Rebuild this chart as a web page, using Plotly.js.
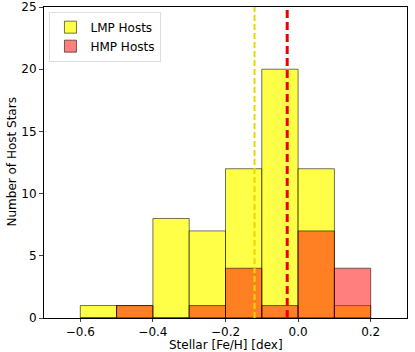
<!DOCTYPE html>
<html>
<head>
<script src="https://cdn.plot.ly/plotly-3.0.1.min.js"></script>
<style>body{margin:0;}#chart{width:415px;height:352px;}</style>
</head>
<body>
<div id="chart"></div>
<script>
// bin centres (width 0.1) and counts
var binCenters = [-0.55, -0.45, -0.35, -0.25, -0.15, -0.05, 0.05, 0.15];
var lmpCounts = [1, 1, 8, 7, 12, 20, 12, 1];
var hmpCounts = [0, 1, 0, 1, 4, 1, 7, 4];
var lmpMean = -0.12;
var hmpMean = -0.03;
var xTicks = [-0.6, -0.4, -0.2, 0.0, 0.2];
var xTickText = ['\u22120.6', '\u22120.4', '\u22120.2', '0.0', '0.2'];
var yTicks = [0, 5, 10, 15, 20, 25];

var edge = {color: 'rgba(0,0,0,0.55)', width: 1};

var lmp = {
	type: 'bar', x: binCenters, y: lmpCounts, width: 0.1,
	name: 'LMP Hosts',
	marker: {color: 'rgba(255,255,0,0.72)', line: edge}
};
var hmp = {
	type: 'bar', x: binCenters, y: hmpCounts, width: 0.1,
	name: 'HMP Hosts',
	marker: {color: 'rgba(255,0,0,0.5)', line: edge}
};

var layout = {
	width: 415, height: 352,
	margin: {l: 44, r: 8, t: 7, b: 34},
	barmode: 'overlay',
	bargap: 0,
	font: {family: 'DejaVu Sans', size: 12, color: '#000'},
	paper_bgcolor: '#fff', plot_bgcolor: '#fff',
	showlegend: true,
	legend: {
		x: 0.015, y: 0.985, xanchor: 'left', yanchor: 'top',
		bordercolor: '#ddd', borderwidth: 1, bgcolor: 'rgba(255,255,255,0.8)',
		font: {size: 12}
	},
	xaxis: {
		range: [-0.7, 0.3], tickvals: xTicks, ticktext: xTickText,
		showgrid: false, zeroline: false, showline: true, mirror: true,
		linecolor: '#000', linewidth: 1, ticks: 'outside', ticklen: 3,
		tickfont: {size: 12}
	},
	yaxis: {
		range: [0, 25], tickvals: yTicks,
		showgrid: false, zeroline: false, showline: true, mirror: true,
		linecolor: '#000', linewidth: 1, ticks: 'outside', ticklen: 4,
		tickfont: {size: 12}
	},
	annotations: [
		{text: 'Stellar [Fe/H] [dex]', xref: 'paper', yref: 'paper', x: 0.5, y: 0,
			xanchor: 'center', yanchor: 'top', yshift: -18, showarrow: false, font: {size: 12}},
		{text: 'Number of Host Stars', xref: 'paper', yref: 'paper', x: 0, y: 0.5,
			xanchor: 'right', yanchor: 'middle', xshift: -24, textangle: -90, showarrow: false, font: {size: 12}}
	],
	shapes: [
		{type: 'line', xref: 'x', yref: 'paper', x0: lmpMean, x1: lmpMean, y0: 0, y1: 1,
			line: {color: '#e6d800', width: 2, dash: '6px,3px'}},
		{type: 'line', xref: 'x', yref: 'paper', x0: hmpMean, x1: hmpMean, y0: 0, y1: 1,
			line: {color: '#ee0000', width: 3, dash: '8px,4px'}}
	]
};

Plotly.newPlot('chart', [lmp, hmp], layout, {displayModeBar: false, staticPlot: true});
</script>
</body>
</html>
